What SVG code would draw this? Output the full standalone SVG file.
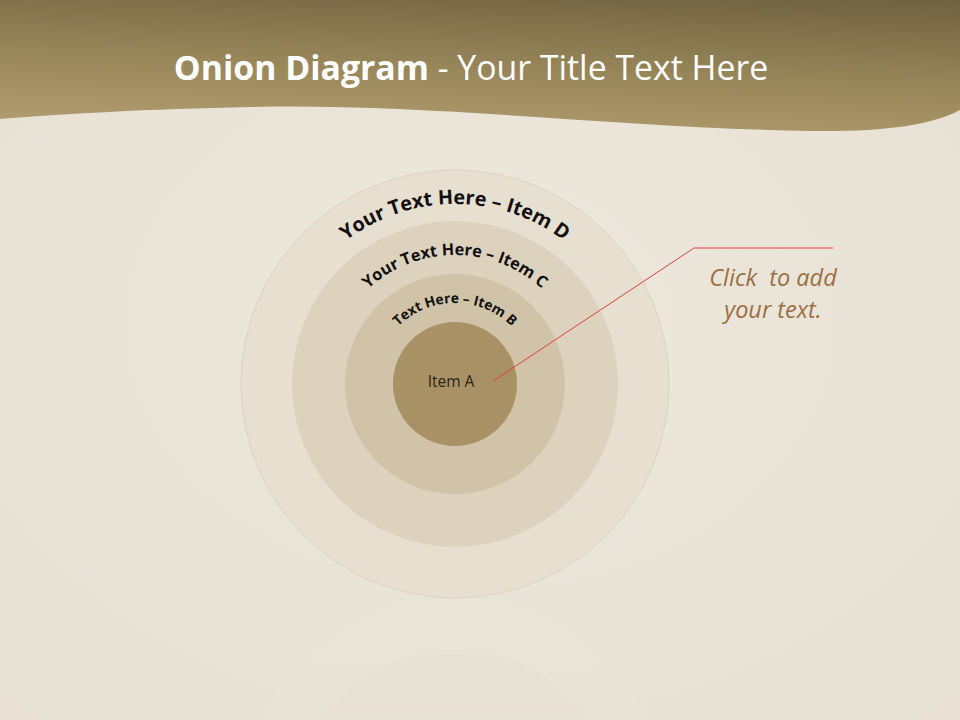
<svg xmlns="http://www.w3.org/2000/svg" width="960" height="720" viewBox="0 0 960 720">
  <defs>
    <linearGradient id="hdr" x1="0" y1="1" x2="0.35" y2="-0.2">
      <stop offset="0" stop-color="#b49f72"/>
      <stop offset="0.5" stop-color="#968558"/>
      <stop offset="1" stop-color="#6f6140"/>
    </linearGradient>
    <radialGradient id="bg" cx="0.5" cy="0.45" r="0.75">
      <stop offset="0" stop-color="#ede8dd"/>
      <stop offset="1" stop-color="#e7e0d3"/>
    </radialGradient>
    <linearGradient id="fade" x1="0" y1="598" x2="0" y2="720" gradientUnits="userSpaceOnUse">
      <stop offset="0" stop-color="#fff" stop-opacity="0.22"/>
      <stop offset="1" stop-color="#fff" stop-opacity="0.08"/>
    </linearGradient>
    <mask id="refl">
      <rect x="0" y="598" width="960" height="122" fill="url(#fade)"/>
    </mask>
    <path id="arcD" d="M 275,384 A 180,180 0 0 1 635,384"/>
    <path id="arcC" d="M 326,384 A 129,129 0 0 1 584,384"/>
    <path id="arcB" d="M 374,384 A 81,81 0 0 1 536,384"/>
    <style>
      .arc { font-family: "Open Sans", "Liberation Sans", sans-serif; font-weight: bold; fill: #111; }
      .callout { font-family: "Open Sans", "Liberation Sans", sans-serif; font-style: italic; font-size: 23.5px; fill: #9a7040; }
    </style>
  </defs>

  <rect width="960" height="720" fill="url(#bg)"/>

  <g id="header">
    <path d="M0,0 H960 V110 C930,126 880,132 810,131 C620,128 430,103 250,107 C150,109 60,114 0,119 Z" fill="url(#hdr)"/>
    <text x="471" y="80" text-anchor="middle" font-family="Open Sans, Liberation Sans, sans-serif" font-size="33.8" fill="#ffffff"><tspan font-weight="bold">Onion Diagram</tspan> - Your Title Text Here</text>
  </g>

  <g id="reflection" mask="url(#refl)">
    <circle cx="455" cy="812" r="214" fill="#f2ede2"/>
    <circle cx="455" cy="812" r="163" fill="#e6dccb"/>
  </g>

  <g id="item-d">
    <circle cx="455" cy="384" r="214" fill="#e7dfcf" stroke="#ddd3c0" stroke-width="1"/>
    <text class="arc" font-size="19.8"><textPath href="#arcD" startOffset="50%" text-anchor="middle">Your Text Here – Item D</textPath></text>
  </g>
  <g id="item-c">
    <circle cx="455" cy="384" r="163" fill="#dcd2bd"/>
    <text class="arc" font-size="16.3"><textPath href="#arcC" startOffset="50%" text-anchor="middle">Your Text Here – Item C</textPath></text>
  </g>
  <g id="item-b">
    <circle cx="455" cy="384" r="110" fill="#d0c3a7"/>
    <text class="arc" font-size="13.8"><textPath href="#arcB" startOffset="50%" text-anchor="middle">Text Here – Item B</textPath></text>
  </g>
  <g id="item-a">
    <circle cx="455" cy="384" r="62" fill="#a89164"/>
    <text x="451" y="387" text-anchor="middle" font-family="Open Sans, Liberation Sans, sans-serif" font-size="15.5" fill="#2a2418">Item A</text>
  </g>

  <g id="connectors">
    <polyline points="493,381 694,248 833,248" fill="none" stroke="#e0403c" stroke-width="1"/>
  </g>

  <g id="callout">
    <text class="callout" x="773" y="286" text-anchor="middle" xml:space="preserve">Click  to add</text>
    <text class="callout" x="773" y="318" text-anchor="middle">your text.</text>
  </g>
</svg>
